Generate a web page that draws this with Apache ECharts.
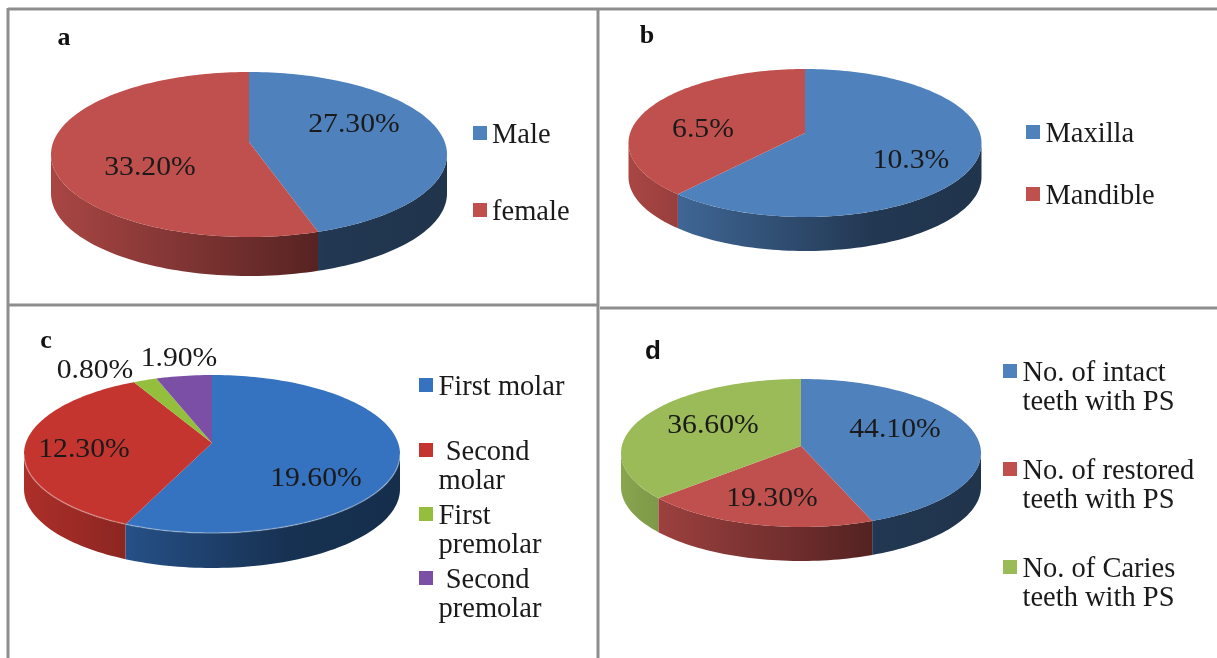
<!DOCTYPE html>
<html>
<head>
<meta charset="utf-8">
<title>Panels a-d</title>
<style>
  html, body { margin: 0; padding: 0; background: #fff; }
  #main { width: 1217px; height: 658px; }
</style>
<script src="https://cdn.jsdelivr.net/npm/echarts@6/dist/echarts.min.js"></script>
</head>
<body>
<div id="main"></div>
<script>
// data
const namesA = ['Male', 'female'];
const valuesA = [27.3, 33.2];
const namesB = ['Maxilla', 'Mandible'];
const valuesB = [10.3, 6.5];
const namesC = ['First molar', ' Second\nmolar', 'First\npremolar', ' Second\npremolar'];
const valuesC = [19.6, 12.3, 0.8, 1.9];
const namesD = ['No. of intact\nteeth with PS', 'No. of restored\nteeth with PS', 'No. of Caries\nteeth with PS'];
const valuesD = [44.1, 19.3, 36.6];

const office = ['#4f81bd', '#c0504d', '#9bbb59', '#8064a2'];
const glossy = ['#3572bf', '#c5352f', '#93bf3d', '#7b4fa6'];

// ax/ay: where the slices meet, rx: half width, top/bottom: distance from there to the rim
const panels = [
  { id: 'a', names: namesA, values: valuesA, colors: office, digits: 2, ax: 249, ay: 142, rx: 198, top: 70, bottom: 95, depth: 39,
    labels: [[354, 125], [150, 168]], swatch: 14,
    legend: [[473, 133], [473, 210]] },
  { id: 'b', names: namesB, values: valuesB, colors: office, digits: 1, ax: 805, ay: 133, rx: 176.5, top: 64, bottom: 84, depth: 34,
    labels: [[911, 161], [703, 130]], swatch: 15,
    legend: [[1026, 132], [1026, 194]] },
  { id: 'c', names: namesC, values: valuesC, colors: glossy, digits: 2, ax: 212, ay: 443, rx: 188, top: 68, bottom: 90, depth: 35, rim: true,
    labels: [[316, 479], [84, 450], [95, 371], [179, 359]], swatch: 15,
    legend: [[419, 385], [419, 450], [419, 514], [419, 578]] },
  { id: 'd', names: namesD, values: valuesD, colors: office, digits: 2, ax: 801, ay: 446, rx: 180, top: 67, bottom: 81, depth: 34,
    labels: [[895, 430], [772, 499], [713, 426]], swatch: 15,
    legend: [[1003, 371], [1003, 469], [1003, 567]] }
];

const serif = '"Liberation Serif", "Times New Roman", serif';
const legendLine = 29;
// swatch path with an empty strip below it, so the text centre sits 3px under the swatch centre
const swatchIcon = 'path://M0 0L14 0L14 14L0 14ZM0 20L14 20Z';
const swatchOffset = 3;

function shade(hex, k) {
  const n = parseInt(hex.slice(1), 16);
  const c = [n >> 16, (n >> 8) & 255, n & 255].map(v => Math.round(v * k));
  return `rgb(${c[0]},${c[1]},${c[2]})`;
}

// the tilted disc: a circle seen in perspective, so the hub is not the middle of the ellipse
function makeDisc(p) {
  const persp = (p.bottom - p.top) / (p.bottom + p.top);
  const B = p.top * (1 + persp);
  const A = p.rx * Math.sqrt(1 - persp * persp);
  const point = (deg, dy) => {
    const t = deg * Math.PI / 180;
    const w = 1 + persp * Math.cos(t);
    return [p.ax + A * Math.sin(t) / w, p.ay - B * Math.cos(t) / w + dy];
  };
  const tilt = Math.asin(persp) * 180 / Math.PI;
  return { point, frontStart: 90 + tilt, frontEnd: 270 - tilt };
}

function arc(disc, from, to, dy) {
  const pts = [];
  const steps = Math.max(2, Math.ceil((to - from) / 1.5));
  for (let i = 0; i <= steps; i++) {
    pts.push(disc.point(from + (to - from) * i / steps, dy));
  }
  return pts;
}

const series = [];
const legends = [];

panels.forEach(p => {
  const disc = makeDisc(p);
  const total = p.values.reduce((s, v) => s + v, 0);
  let used = 0;

  p.names.forEach((name, i) => {
    const color = p.colors[i];
    const start = used / total * 360;
    used += p.values[i];
    const end = used / total * 360;

    series.push({
      type: 'custom',
      name: name,
      coordinateSystem: 'none',
      silent: true,
      animation: false,
      itemStyle: { color: color },
      data: [[p.values[i]]],
      renderItem: function (params, api) {
        const children = [];
        const wallFrom = Math.max(start, disc.frontStart);
        const wallTo = Math.min(end, disc.frontEnd);
        if (wallTo > wallFrom) {
          const upper = arc(disc, wallFrom, wallTo, 0);
          const lower = arc(disc, wallFrom, wallTo, p.depth).reverse();
          children.push({
            type: 'polygon',
            shape: { points: upper.concat(lower) },
            style: {
              fill: {
                type: 'linear', global: true,
                x: p.ax - p.rx, y: 0, x2: p.ax + p.rx, y2: 0,
                colorStops: [
                  { offset: 0, color: shade(color, 0.88) },
                  { offset: 0.7, color: shade(color, 0.43) },
                  { offset: 1, color: shade(color, 0.4) }
                ]
              }
            }
          });
        }
        children.push({
          type: 'polygon',
          shape: { points: [[p.ax, p.ay]].concat(arc(disc, start, end, 0)) },
          style: { fill: color }
        });
        if (p.rim && wallTo > wallFrom) {
          // panel c has the glossy style with a light edge
          children.push({
            type: 'polyline',
            shape: { points: arc(disc, wallFrom, wallTo, 0) },
            style: { fill: null, stroke: 'rgba(255,255,255,0.3)', lineWidth: 1.5 }
          });
        }
        children.push({
          type: 'text',
          x: p.labels[i][0],
          y: p.labels[i][1],
          scaleX: 1.1,
          style: {
            text: api.value(0).toFixed(p.digits) + '%',
            x: 0, y: 0,
            align: 'center',
            verticalAlign: 'middle',
            fill: '#1a1a1a',
            font: '27px ' + serif
          }
        });
        return { type: 'group', children: children };
      }
    });

    // one legend per row, the rows are not evenly spaced in the picture
    const twoLines = name.indexOf('\n') >= 0;
    const blockLines = twoLines ? 3 : 1;
    legends.push({
      orient: 'vertical',
      left: p.legend[i][0],
      top: p.legend[i][1] + swatchOffset - blockLines * legendLine / 2,
      padding: 0,
      icon: swatchIcon,
      itemWidth: p.swatch,
      itemHeight: 20,
      selectedMode: false,
      // blank first line keeps the swatch level with the first text line
      formatter: n => (n.indexOf('\n') >= 0 ? '\n' + n : n),
      textStyle: { color: '#1a1a1a', fontFamily: serif, fontSize: 28.5, lineHeight: legendLine },
      data: [{ name: name, itemStyle: { color: color } }]
    });
  });
});

const lineStyle = { stroke: '#8e8e8e', lineWidth: 3 };
const rule = (x1, y1, x2, y2) => ({ type: 'line', silent: true, shape: { x1, y1, x2, y2 }, style: lineStyle });
const letter = (text, x, y, family) => ({
  type: 'text', silent: true, x: x, y: y,
  style: { text: text, font: 'bold 26px ' + family, fill: '#111', align: 'center', verticalAlign: 'middle' }
});

const chart = echarts.init(document.getElementById('main'));
chart.setOption({
  backgroundColor: '#fff',
  animation: false,
  legend: legends,
  series: series,
  graphic: [
    rule(8, 9, 1217, 9),
    rule(8, 8, 8, 658),
    rule(598, 8, 598, 658),
    rule(8, 305, 597, 305),
    rule(600, 308, 1217, 308),
    letter('a', 64, 38, serif),
    letter('b', 647, 36, serif),
    letter('c', 46, 341, serif),
    letter('d', 653, 352, '"Liberation Sans", Arial, sans-serif')
  ]
});
</script>
</body>
</html>
